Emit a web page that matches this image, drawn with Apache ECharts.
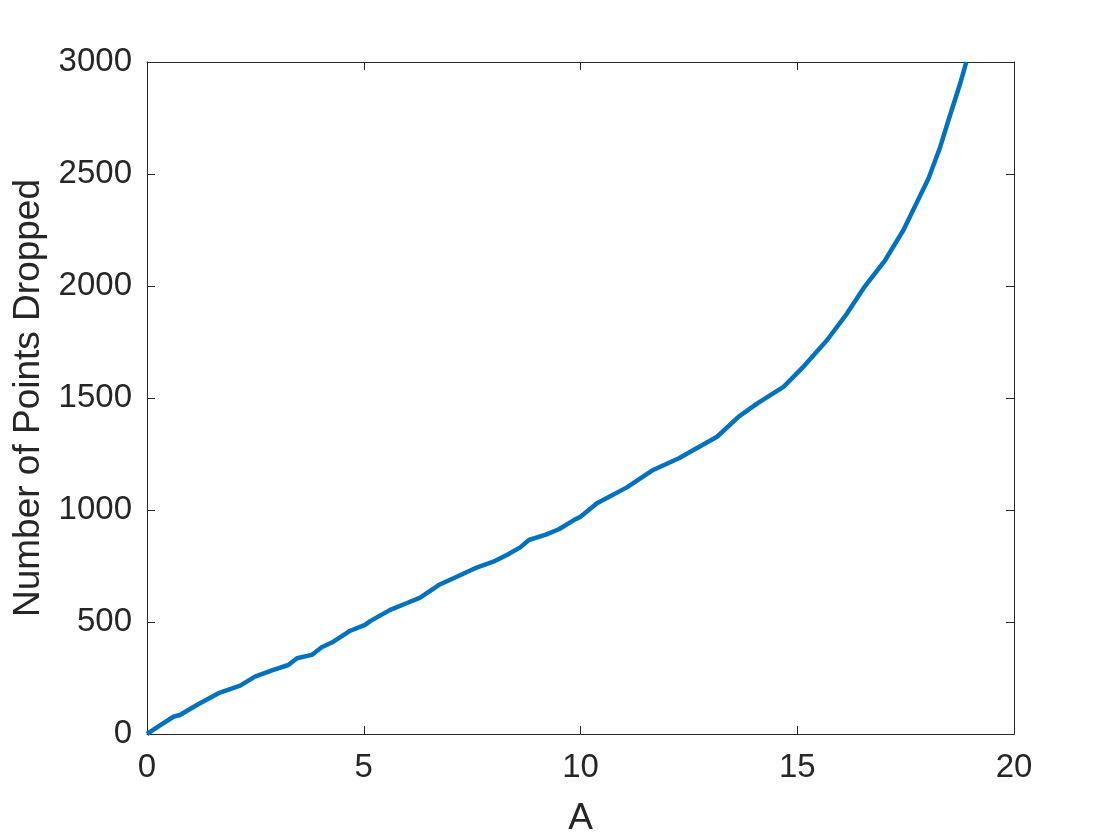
<!DOCTYPE html>
<html>
<head>
<meta charset="utf-8">
<script src="https://cdn.jsdelivr.net/npm/echarts@6/dist/echarts.min.js"></script>
<style>
  html, body { margin: 0; padding: 0; background: #fff; }
  #chart { width: 1120px; height: 840px; }
</style>
</head>
<body>
<div id="chart"></div>
<script>
// values
var aValues = [0, 0.3, 0.61, 0.76, 1.2, 1.65, 2.15, 2.49, 2.9, 3.26, 3.46, 3.8, 4.03, 4.3, 4.69,
  5.03, 5.15, 5.61, 6.0, 6.3, 6.73, 7.07, 7.57, 7.99, 8.3, 8.61, 8.81, 9.2, 9.5, 9.85,
  10.0, 10.38, 11.07, 11.65, 12.27, 13.15, 13.65, 14.08, 14.69, 15.11, 15.69, 16.15,
  16.53, 17.03, 17.45, 18.03, 18.3, 18.49, 18.76, 18.9];
var droppedValues = [0, 38, 77, 85, 135, 182, 216, 256, 285, 308, 338, 353, 387, 412, 461,
  487, 504, 554, 585, 609, 665, 695, 740, 769, 799, 833, 866, 890, 914, 955,
  970, 1030, 1101, 1176, 1231, 1327, 1417, 1476, 1551, 1633, 1759, 1878,
  1990, 2116, 2250, 2481, 2622, 2741, 2905, 3000];
var xTicks = [0, 5, 10, 15, 20];
var yTicks = [0, 500, 1000, 1500, 2000, 2500, 3000];

var axisColor = '#262626';
var fontFam = '"Liberation Sans", Arial, sans-serif';

var chart = echarts.init(document.getElementById('chart'));

var points = aValues.map(function (a, i) { return [a, droppedValues[i]]; });

function frameAxis(extra) {
  var base = {
    type: 'value',
    axisLine: { show: true, onZero: false, lineStyle: { color: axisColor, width: 1 } },
    axisTick: { show: true, inside: true, length: 8, lineStyle: { color: axisColor, width: 1 } },
    splitLine: { show: false }
  };
  return Object.assign(base, extra);
}

var option = {
  animation: false,
  backgroundColor: '#fff',
  grid: { left: 147, right: 106, top: 62, bottom: 106, containLabel: false, outerBoundsMode: 'none' },
  xAxis: [
    frameAxis({
      position: 'bottom',
      min: xTicks[0], max: xTicks[xTicks.length - 1], interval: 5,
      name: 'A', nameLocation: 'middle', nameGap: 66,
      nameTextStyle: { color: axisColor, fontSize: 37, fontFamily: fontFam },
      axisLabel: { color: axisColor, fontSize: 33, fontFamily: fontFam, margin: 17,
        formatter: function (v) { return String(v); } }
    }),
    frameAxis({
      position: 'top',
      min: xTicks[0], max: xTicks[xTicks.length - 1], interval: 5,
      axisLabel: { show: false }
    })
  ],
  yAxis: [
    frameAxis({
      position: 'left',
      min: yTicks[0], max: yTicks[yTicks.length - 1], interval: 500,
      name: 'Number of Points Dropped', nameLocation: 'middle', nameGap: 100,
      nameTextStyle: { color: axisColor, fontSize: 37, fontFamily: fontFam },
      axisLabel: { color: axisColor, fontSize: 33, fontFamily: fontFam, margin: 15,
        formatter: function (v) { return String(v); } }
    }),
    frameAxis({
      position: 'right',
      min: yTicks[0], max: yTicks[yTicks.length - 1], interval: 500,
      axisLabel: { show: false }
    })
  ],
  series: [{
    type: 'line',
    xAxisIndex: 0,
    yAxisIndex: 0,
    data: points,
    showSymbol: false,
    smooth: false,
    clip: true,
    lineStyle: { color: '#0072BD', width: 4.5 }
  }]
};

chart.setOption(option);
</script>
</body>
</html>
